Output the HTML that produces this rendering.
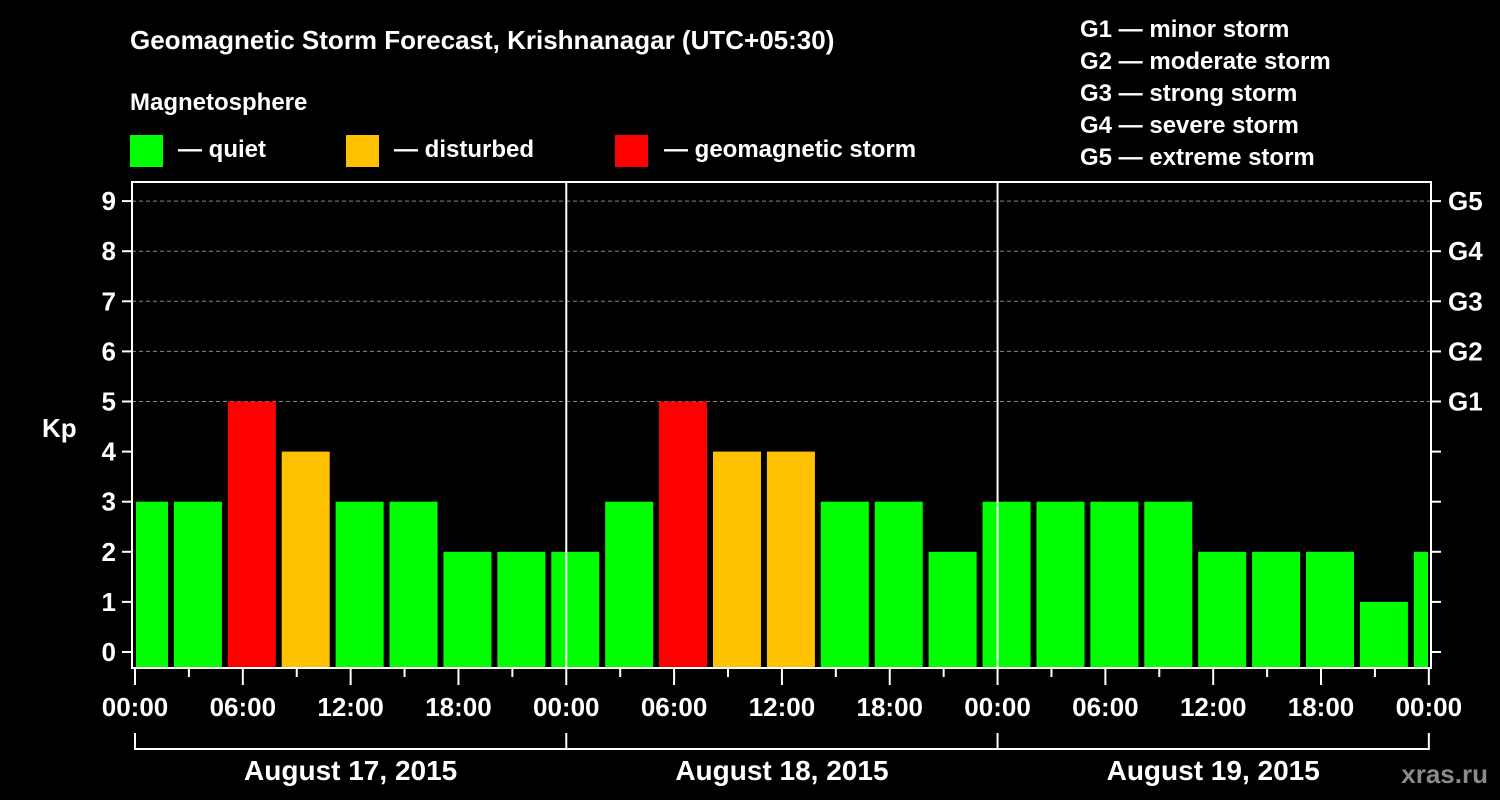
<!DOCTYPE html>
<html><head><meta charset="utf-8"><style>
body{margin:0;background:#000;width:1500px;height:800px;overflow:hidden}
svg{display:block}
text{font-family:"Liberation Sans",Arial,sans-serif;font-weight:bold;fill:#fff}
</style></head><body>
<svg id="c" width="1500" height="800">
<text x="130" y="49" font-size="26">Geomagnetic Storm Forecast, Krishnanagar (UTC+05:30)</text>
<text x="130" y="110" font-size="24">Magnetosphere</text>
<rect x="130" y="135" width="33" height="32" fill="#00ff00"/>
<text x="178" y="157" font-size="24">— quiet</text>
<rect x="346" y="135" width="33" height="32" fill="#ffc000"/>
<text x="394" y="157" font-size="24">— disturbed</text>
<rect x="615" y="135" width="33" height="32" fill="#ff0000"/>
<text x="664" y="157" font-size="24">— geomagnetic storm</text>
<g font-size="24">
<text x="1080" y="37">G1 — minor storm</text>
<text x="1080" y="69">G2 — moderate storm</text>
<text x="1080" y="101">G3 — strong storm</text>
<text x="1080" y="133">G4 — severe storm</text>
<text x="1080" y="165">G5 — extreme storm</text>
</g>
<text x="42" y="437" font-size="26">Kp</text>
<text x="1488" y="783" font-size="26" text-anchor="end" fill="#888" style="fill:#8a8a8a">xras.ru</text>
<g id="plot"></g>
</svg>
<script>
const kpValues=[3,3,5,4,3,3,2,2,2,3,5,4,4,3,3,2,3,3,3,3,2,2,2,1,2];
const xTickLabels=["00:00","06:00","12:00","18:00","00:00","06:00","12:00","18:00","00:00","06:00","12:00","18:00","00:00"];
const dayLabels=["August 17, 2015","August 18, 2015","August 19, 2015"];
const yTicks=[0,1,2,3,4,5,6,7,8,9];
const gLabels=["G1","G2","G3","G4","G5"];
const NS="http://www.w3.org/2000/svg";
const g=document.getElementById('plot');
const L=132,R=1431,T=182,B=668;
const x=h=>135+h*17.97;
const y=v=>652-v*50.1;
function mk(t,a,p){const e=document.createElementNS(NS,t);for(const k in a)e.setAttribute(k,a[k]);(p||g).appendChild(e);return e;}
const clip=mk('clipPath',{id:'pc'});mk('rect',{x:L,y:T,width:R-L,height:B-T},clip);
// grid
[5,6,7,8,9].forEach(v=>{const l=mk('line',{x1:L,x2:R,y1:y(v),y2:y(v),stroke:'#888','stroke-dasharray':'4,3','stroke-width':1});

});
const bg=mk('g',{'clip-path':'url(#pc)'});
kpValues.forEach((v,i)=>{const c=(0.5+3*i);const col=v>=5?'#ff0000':v>=4?'#ffc000':'#00ff00';
const r=mk('rect',{x:Math.max(x(c)-24,136),y:y(v),width:Math.min(x(c)+24,1428)-Math.max(x(c)-24,136),height:B-1-y(v),fill:col},bg);

});
// day separators
[24,48].forEach(h=>{const l=mk('line',{x1:x(h),x2:x(h),y1:T,y2:B,stroke:'#fff','stroke-width':2});

});
const fr=mk('rect',{x:L,y:T,width:R-L,height:B-T,fill:'none',stroke:'#fff','stroke-width':2});


yTicks.forEach(v=>{mk('line',{x1:122,x2:L,y1:y(v),y2:y(v),stroke:'#fff','stroke-width':2});
mk('line',{x1:R,x2:R+10,y1:y(v),y2:y(v),stroke:'#fff','stroke-width':2});
const t=mk('text',{x:116,y:y(v)+9,'font-size':26,'text-anchor':'end'});t.textContent=v;

});
gLabels.forEach((s,i)=>{const t=mk('text',{x:1448,y:y(5+i)+9,'font-size':26});t.textContent=s;

});
for(let h=0;h<=72;h+=3){const long=h%6==0;mk('line',{x1:x(h),x2:x(h),y1:B,y2:long?685:677,stroke:'#fff','stroke-width':2});}
xTickLabels.forEach((s,i)=>{const t=mk('text',{x:x(i*6),y:716,'font-size':26,'text-anchor':'middle'});t.textContent=s;

});
mk('line',{x1:x(0),x2:x(72),y1:749,y2:749,stroke:'#fff','stroke-width':2});
[0,24,48,72].forEach(h=>mk('line',{x1:x(h),x2:x(h),y1:733,y2:750,stroke:'#fff','stroke-width':2}));
dayLabels.forEach((s,i)=>{const t=mk('text',{x:x(12+24*i),y:780,'font-size':28,'text-anchor':'middle'});t.textContent=s;

});
</script>
</body></html>
